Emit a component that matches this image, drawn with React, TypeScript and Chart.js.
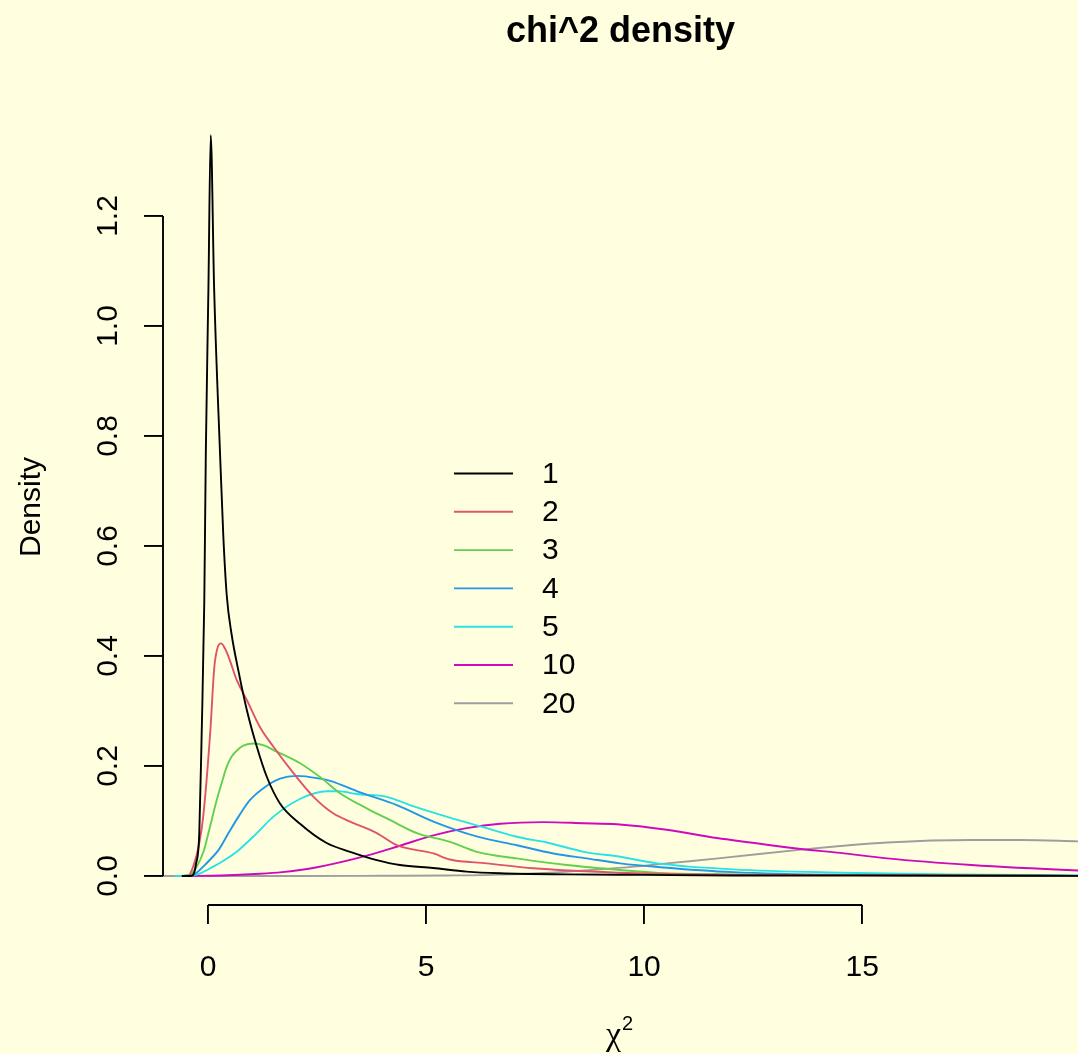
import { useEffect, useRef } from "react";
import { Chart, registerables } from "chart.js";

Chart.register(...registerables);

// ---------- data ----------
const seriesLabels = ["1", "2", "3", "4", "5", "10", "20"];
const seriesColors = ["#000000", "#DF536B", "#61D04F", "#2297E6", "#28E2E5", "#CD0BBC", "#9E9E9E"];

const xs1 = [-0.6, -0.4, -0.34, -0.28, -0.2, -0.145, -0.085, -0.05, 0.01, 0.062, 0.14, 0.275, 0.35, 0.43, 0.54, 0.7, 0.89, 1.12, 1.35, 1.65, 2.11, 2.72, 3.26, 3.87, 4.4, 5.16, 5.93, 6.7, 8.2, 10, 12, 15, 21];
const ys1 = [0, 0, 0.002, 0.02, 0.078, 0.26, 0.5, 0.77, 1.07, 1.347, 1.07, 0.77, 0.62, 0.51, 0.44, 0.372, 0.302, 0.235, 0.18, 0.132, 0.095, 0.06, 0.044, 0.029, 0.02, 0.0145, 0.008, 0.005, 0.003, 0.002, 0.001, 0.001, 0];

const xs2 = [-0.6, -0.46, -0.34, -0.2, -0.11, 0.05, 0.145, 0.22, 0.3, 0.38, 0.47, 0.66, 0.89, 1.19, 1.5, 1.96, 2.42, 2.87, 3.26, 3.87, 4.33, 5.17, 5.55, 6.39, 7.46, 9.45, 11, 13, 21];
const ys2 = [0, 0, 0.017, 0.06, 0.108, 0.26, 0.38, 0.415, 0.423, 0.415, 0.399, 0.356, 0.32, 0.271, 0.235, 0.187, 0.144, 0.114, 0.099, 0.078, 0.056, 0.041, 0.03, 0.023, 0.014, 0.006, 0.003, 0.002, 0];

const xs3 = [-0.6, -0.4, -0.26, -0.1, 0.01, 0.2, 0.31, 0.43, 0.54, 0.7, 0.81, 1.04, 1.3, 1.5, 2.11, 2.6, 3.0, 3.64, 4.17, 4.79, 5.55, 6.16, 7.08, 8.23, 9.45, 10.5, 12, 14, 21];
const ys3 = [0, 0.003, 0.017, 0.045, 0.078, 0.138, 0.168, 0.199, 0.217, 0.231, 0.237, 0.241, 0.237, 0.229, 0.205, 0.178, 0.152, 0.123, 0.102, 0.078, 0.062, 0.044, 0.032, 0.02, 0.011, 0.005, 0.003, 0.002, 0];

const xs4 = [-0.6, -0.3, -0.11, 0.05, 0.24, 0.47, 0.7, 0.96, 1.31, 1.65, 2.03, 2.57, 2.8, 3.49, 4.33, 5.17, 6.16, 7.08, 7.92, 8.68, 9.45, 10.37, 12.04, 14.5, 17, 21];
const ys4 = [0, 0.004, 0.017, 0.03, 0.047, 0.078, 0.108, 0.138, 0.162, 0.177, 0.182, 0.177, 0.173, 0.152, 0.129, 0.099, 0.072, 0.056, 0.041, 0.032, 0.023, 0.016, 0.007, 0.002, 0.001, 0];

const xs5 = [-0.76, -0.3, 0.12, 0.4, 0.7, 1.12, 1.5, 2.11, 2.72, 3.0, 3.41, 4.1, 4.63, 5.47, 6.39, 7.16, 7.77, 8.62, 9.45, 10.3, 12.04, 14.5, 17, 21];
const ys5 = [0, 0.002, 0.017, 0.03, 0.047, 0.078, 0.108, 0.14, 0.154, 0.154, 0.149, 0.144, 0.129, 0.108, 0.087, 0.07, 0.061, 0.044, 0.035, 0.023, 0.012, 0.006, 0.003, 0.001];

const xs10 = [-0.57, 0.3, 1.19, 1.7, 2.11, 2.5, 2.87, 3.64, 4.4, 5.17, 5.93, 6.7, 7.69, 8.61, 9.38, 10.52, 11.67, 12.43, 13.6, 14.5, 15.57, 17.5, 19.95, 21];
const ys10 = [0, 0.0008, 0.004, 0.007, 0.011, 0.016, 0.022, 0.037, 0.055, 0.074, 0.087, 0.095, 0.098, 0.096, 0.094, 0.084, 0.069, 0.061, 0.049, 0.042, 0.032, 0.02, 0.01, 0.007];

const xs20 = [-1.5, 2, 4, 5.5, 6.5, 7.84, 8.99, 9.77, 10.52, 11.7, 13.6, 14.5, 15.57, 17.5, 18.65, 19.95, 21];
const ys20 = [0, 0, 0.0005, 0.001, 0.002, 0.006, 0.012, 0.017, 0.023, 0.032, 0.048, 0.0545, 0.061, 0.0655, 0.0655, 0.063, 0.061];

const seriesX = [xs1, xs2, xs3, xs4, xs5, xs10, xs20];
const seriesY = [ys1, ys2, ys3, ys4, ys5, ys10, ys20];

const xTicks = [0, 5, 10, 15];
const xTickLabels = ["0", "5", "10", "15"];
const yTicks = [0, 0.2, 0.4, 0.6, 0.8, 1.0, 1.2];
const yTickLabels = ["0.0", "0.2", "0.4", "0.6", "0.8", "1.0", "1.2"];

const titleText = "chi^2 density";
const yAxisTitle = "Density";

// ---------- style ----------
const BG = "#FFFFE0";
const FONT = "'Liberation Sans', Arial, Helvetica, sans-serif";
const W = 1078;
const H = 1054;
const LW = 1.9;

const rPlugin = {
  id: "rstyle",
  beforeDraw(chart: any) {
    const ctx = chart.ctx;
    ctx.save();
    ctx.fillStyle = BG;
    ctx.fillRect(0, 0, chart.width, chart.height);
    ctx.restore();
  },
  afterDraw(chart: any) {
    const ctx = chart.ctx;
    const xs = chart.scales.x;
    const ys = chart.scales.y;
    const area = chart.chartArea;
    ctx.save();
    ctx.strokeStyle = "#000";
    ctx.fillStyle = "#000";
    ctx.lineWidth = LW;
    // axis lines
    ctx.beginPath();
    ctx.moveTo(xs.getPixelForValue(xTicks[0]), area.bottom);
    ctx.lineTo(xs.getPixelForValue(xTicks[xTicks.length - 1]), area.bottom);
    ctx.moveTo(area.left, ys.getPixelForValue(yTicks[0]));
    ctx.lineTo(area.left, ys.getPixelForValue(yTicks[yTicks.length - 1]));
    ctx.stroke();

    // x tick labels
    ctx.font = `30px ${FONT}`;
    ctx.textAlign = "center";
    ctx.textBaseline = "alphabetic";
    xTicks.forEach((v, i) => {
      ctx.fillText(xTickLabels[i], xs.getPixelForValue(v), 976);
    });
    // y tick labels (rotated)
    yTicks.forEach((v, i) => {
      ctx.save();
      ctx.translate(117, ys.getPixelForValue(v));
      ctx.rotate(-Math.PI / 2);
      ctx.fillText(yTickLabels[i], 0, 0);
      ctx.restore();
    });

    // title
    const cx = (area.left + area.right) / 2;
    ctx.font = `bold 36px ${FONT}`;
    ctx.fillText(titleText, cx, 42);

    // y axis title
    ctx.font = `30px ${FONT}`;
    ctx.save();
    ctx.translate(40, (area.top + area.bottom) / 2);
    ctx.rotate(-Math.PI / 2);
    ctx.fillText(yAxisTitle, 0, 0);
    ctx.restore();

    // x axis title: chi^2
    const chiFont = `34px 'Liberation Serif', 'DejaVu Serif', serif`;
    const supFont = `20px ${FONT}`;
    ctx.font = chiFont;
    const chiW = ctx.measureText("\u03C7").width;
    ctx.font = supFont;
    const supW = ctx.measureText("2").width;
    const total = chiW + 1 + supW;
    const sx = cx - 1 - total / 2;
    ctx.textAlign = "left";
    ctx.font = chiFont;
    ctx.fillText("\u03C7", sx, 1045);
    ctx.font = supFont;
    ctx.fillText("2", sx + chiW + 1, 1030);

    // legend
    const lx0 = 454;
    const lx1 = 513;
    const tx = 542;
    const ly0 = 473.5;
    const dy = 38.3;
    ctx.font = `30px ${FONT}`;
    ctx.textAlign = "left";
    ctx.textBaseline = "middle";
    chart.data.datasets.forEach((ds: any, i: number) => {
      const y = ly0 + i * dy;
      ctx.strokeStyle = ds.borderColor;
      ctx.lineWidth = LW;
      ctx.beginPath();
      ctx.moveTo(lx0, y);
      ctx.lineTo(lx1, y);
      ctx.stroke();
      ctx.fillStyle = "#000";
      ctx.fillText(ds.label, tx, y + 1);
    });
    ctx.restore();
  },
};

export default function App() {
  const ref = useRef<HTMLCanvasElement | null>(null);

  useEffect(() => {
    document.body.style.margin = "0";
    document.body.style.background = BG;
    const canvas = ref.current;
    if (!canvas) return;
    const datasets = seriesLabels.map((label, i) => ({
      label,
      data: seriesX[i].map((x, j) => ({ x, y: seriesY[i][j] })),
      borderColor: seriesColors[i],
      backgroundColor: seriesColors[i],
      borderWidth: LW,
      pointRadius: 0,
      pointHoverRadius: 0,
      fill: false,
      cubicInterpolationMode: "monotone" as const,
    }));

    const chart = new Chart(canvas, {
      type: "line",
      data: { datasets },
      options: {
        animation: false,
        responsive: false,
        devicePixelRatio: 1,
        layout: { padding: { top: 109, left: 0, right: 0, bottom: 0 } },
        plugins: {
          legend: { display: false },
          title: { display: false },
          tooltip: { enabled: false },
        },
        events: [],
        scales: {
          x: {
            type: "linear",
            position: "bottom",
            min: -1.032,
            max: 19.95,
            grid: {
              drawOnChartArea: false,
              drawTicks: true,
              tickLength: 19,
              color: "#000",
              lineWidth: LW,
            },
            border: { display: false },
            ticks: { display: false },
            afterBuildTicks: (s: any) => {
              s.ticks = xTicks.map((v) => ({ value: v }));
            },
            afterFit: (s: any) => {
              s.height = 149;
            },
          },
          y: {
            type: "linear",
            position: "left",
            min: -0.0527,
            max: 1.3945,
            grid: {
              drawOnChartArea: false,
              drawTicks: true,
              tickLength: 19,
              color: "#000",
              lineWidth: LW,
            },
            border: { display: false },
            ticks: { display: false },
            afterBuildTicks: (s: any) => {
              s.ticks = yTicks.map((v) => ({ value: v }));
            },
            afterFit: (s: any) => {
              s.width = 163;
            },
          },
        },
      },
      plugins: [rPlugin],
    });
    return () => chart.destroy();
  }, []);

  return (
    <div style={{ position: "absolute", left: 0, top: 0, width: W, height: H, background: BG }}>
      <canvas ref={ref} width={W} height={H} style={{ display: "block", width: W, height: H }} />
    </div>
  );
}
